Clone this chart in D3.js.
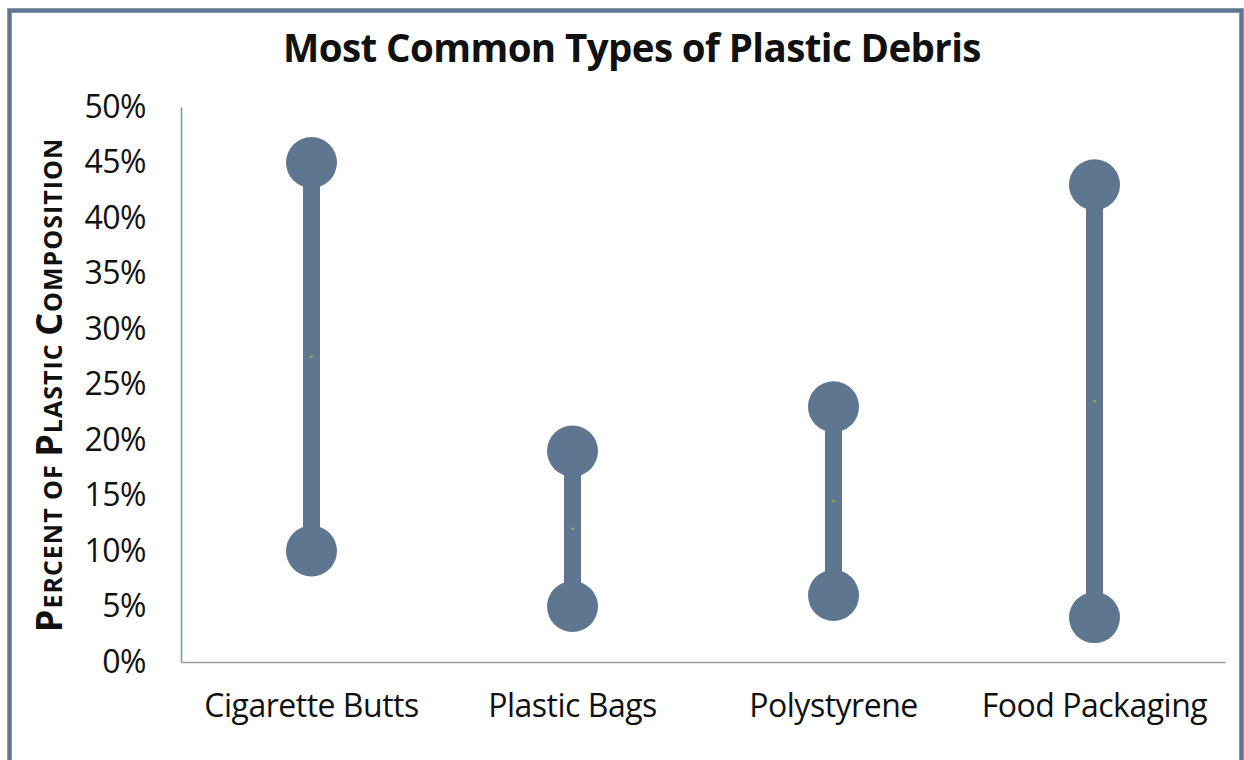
<!DOCTYPE html>
<html>
<head>
<meta charset="utf-8">
<script src="https://cdn.jsdelivr.net/npm/d3@7"></script>
<style>
  html, body { margin: 0; padding: 0; background: #fff; }
  svg { display: block; }
</style>
</head>
<body>
<svg id="chart" width="1244" height="760"></svg>
<script>
const categories = ["Cigarette Butts", "Plastic Bags", "Polystyrene", "Food Packaging"];
const lowValues  = [10, 5, 6, 4];
const highValues = [45, 19, 23, 43];
const yTicks = [0, 5, 10, 15, 20, 25, 30, 35, 40, 45, 50];

const svg = d3.select("#chart");
const fontFam = "'Open Sans', 'Noto Sans', sans-serif";
const markColor = "#5f7690";

// frame
svg.append("rect")
  .attr("x", 9.5).attr("y", 10.5)
  .attr("width", 1232).attr("height", 760)
  .attr("fill", "#fff").attr("stroke", "#5f7690").attr("stroke-width", 4.5);

const plot = { left: 181, right: 1225, top: 107, bottom: 662 };

const x = d3.scaleBand().domain(categories).range([plot.left, plot.right]).padding(0);
const y = d3.scaleLinear().domain([0, 50]).range([plot.bottom, plot.top]);

// title
svg.append("text")
  .attr("x", 632).attr("y", 62)
  .attr("text-anchor", "middle")
  .attr("font-family", fontFam).attr("font-weight", "bold")
  .attr("font-size", 38.5).attr("letter-spacing", -0.6)
  .attr("fill", "#111")
  .text("Most Common Types of Plastic Debris");

// y axis
const yAxis = d3.axisLeft(y).tickValues(yTicks).tickSize(0).tickPadding(35)
  .tickFormat(d => d + "%");
const gy = svg.append("g").attr("transform", `translate(${plot.left},0)`).call(yAxis);
gy.select(".domain").attr("stroke", "#7f93ad").attr("stroke-width", 1.5);
gy.selectAll("text")
  .attr("font-family", fontFam).attr("font-size", 32).attr("fill", "#111")
  .attr("letter-spacing", -0.5);

// x axis
const xAxis = d3.axisBottom(x).tickSize(0).tickPadding(32);
const gx = svg.append("g").attr("transform", `translate(0,${plot.bottom})`).call(xAxis);
gx.select(".domain").attr("stroke", "#9a9a9a").attr("stroke-width", 1.5);
gx.selectAll("text")
  .attr("font-family", fontFam).attr("font-size", 32).attr("fill", "#111")
  .attr("letter-spacing", -0.5);

// y axis label (small caps)
const lab = svg.append("text")
  .attr("transform", `translate(62,385) rotate(-90)`)
  .attr("text-anchor", "middle")
  .attr("font-family", fontFam).attr("font-weight", "bold")
  .attr("fill", "#111").attr("letter-spacing", 1);
const parts = [["P", 36], ["ERCENT OF ", 25], ["P", 36], ["LASTIC ", 25], ["C", 36], ["OMPOSITION", 25]];
parts.forEach(p => lab.append("tspan").attr("font-size", p[1]).text(p[0]));

// dumbbells
const data = categories.map((c, i) => ({ c, lo: lowValues[i], hi: highValues[i] }));
const cx = d => x(d.c) + x.bandwidth() / 2;

const g = svg.append("g");
g.selectAll("line.stem").data(data).enter().append("line")
  .attr("class", "stem")
  .attr("x1", cx).attr("x2", cx)
  .attr("y1", d => y(d.lo)).attr("y2", d => y(d.hi))
  .attr("stroke", markColor).attr("stroke-width", 17);

g.selectAll("circle.hi").data(data).enter().append("circle")
  .attr("cx", cx).attr("cy", d => y(d.hi)).attr("r", 25.5).attr("fill", markColor);
g.selectAll("circle.lo").data(data).enter().append("circle")
  .attr("cx", cx).attr("cy", d => y(d.lo)).attr("r", 25.5).attr("fill", markColor);

// small midpoint markers
g.selectAll("rect.mid").data(data).enter().append("rect")
  .attr("x", d => cx(d) - 1.5).attr("y", d => y((d.lo + d.hi) / 2) - 1)
  .attr("width", 3).attr("height", 2).attr("fill", "#8db33a");
</script>
</body>
</html>
